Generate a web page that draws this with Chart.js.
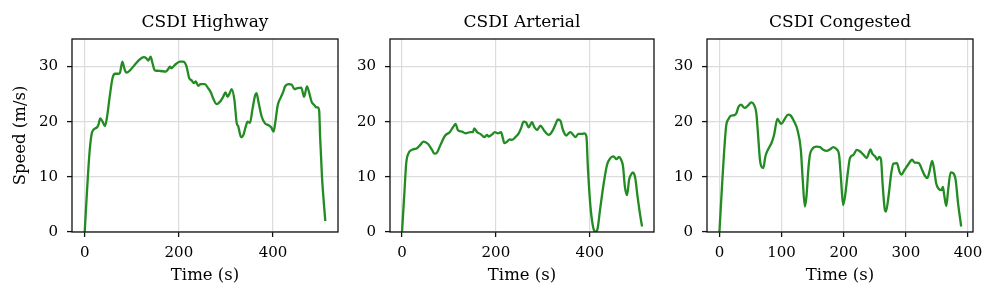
<!DOCTYPE html>
<html>
  <head>
    <title>CSDI speed profiles</title>
    <script src="https://cdn.jsdelivr.net/npm/chart.js"></script>
    <style>
      body { margin: 0; background: #fff; }
      #wrap { position: relative; width: 997px; height: 300px; }
      canvas { position: absolute; top: 0; }
    </style>
  </head>
  <body>
    <div id="wrap">
      <canvas id="highway" width="345" height="300" style="left:0px"></canvas>
      <canvas id="arterial" width="331" height="300" style="left:330px"></canvas>
      <canvas id="congested" width="347" height="300" style="left:650px"></canvas>
    </div>
    <script>
      'use strict'
      // values (time in s, speed in m/s)
      const highwayTime = [0, 5, 10.6, 16, 25, 29, 33, 38, 43, 47.5, 53, 59, 64.5, 71, 74.5, 80, 84, 88.7, 96, 106,
        117, 125.5, 131, 135, 140, 144, 149, 160, 172, 177, 181, 184, 191.5, 202, 209, 216, 222, 227, 232, 236,
        241, 246, 255, 262, 268, 273, 280, 287, 294, 299, 303.5, 308.5, 312, 318, 323, 326, 332, 337, 342, 346,
        351, 356, 362, 365, 369, 376, 383, 390, 396, 401, 404, 410, 417, 422, 425.5, 433, 440, 445, 452, 460,
        466, 472, 477, 482, 488, 492, 495, 498, 500, 504, 508, 511];
      const highwaySpeed = [0, 7.6, 14.8, 18.2, 18.9, 19.4, 20.6, 20, 19.2, 20.9, 24.5, 27.9, 28.7, 28.7, 28.8, 30.9, 29.7, 28.9, 29.3, 30.3,
        31.3, 31.7, 31.5, 31.1, 31.8, 30.6, 29.3, 29.2, 29.1, 29.5, 30, 29.7, 30.3, 30.9, 30.9, 30.1, 27.9, 27.5, 27, 27.3,
        26.5, 26.8, 26.8, 26.1, 25.3, 24.2, 23.2, 23.6, 24.5, 25.3, 24.5, 25.3, 25.9, 23.9, 19.7, 19.2, 17.2, 17.6, 19.1, 20,
        19.8, 22.1, 24.8, 25.2, 23.6, 20.9, 19.7, 19.4, 19, 18.2, 19.4, 23, 24.5, 25.5, 26.4, 26.8, 26.7, 25.9, 26.1, 26.2,
        24.5, 26.4, 25.2, 23.6, 23, 22.6, 22.6, 22, 17.3, 10, 5.2, 2];

      const arterialTime = [0, 5, 9, 14, 21, 32, 39, 46, 55, 64, 69, 74.6, 82, 92, 101.6, 108.7, 114, 119, 128, 135,
        145.6, 151, 154, 160, 167, 175.5, 181, 185, 192, 197.5, 204.6, 211, 215, 218, 224, 229.5, 234, 241.6, 248.7, 253.6,
        259, 264, 270, 277, 282, 288, 295, 302, 312.6, 319.7, 327, 332, 337.5, 343, 350, 355, 359, 365, 369.5, 376,
        384, 388.6, 393, 396, 401, 407, 412, 417, 422, 429.8, 437, 444, 451, 457, 462, 467, 471, 475, 479.6, 484,
        488, 492, 497, 502, 508, 511.6];
      const arterialSpeed = [0, 7, 12.5, 14.3, 14.9, 15.2, 15.8, 16.4, 16, 14.9, 14.2, 14.4, 15.8, 17.5, 18.1, 19, 19.6, 18.5, 18.2, 17.9,
        18.1, 18.1, 18.8, 18.1, 17.8, 17.2, 17.6, 17.3, 17.7, 18.1, 17.9, 18.1, 17, 16.1, 16.4, 16.8, 16.7, 17.2, 17.9, 18.8,
        20, 19.9, 19, 19.9, 19, 18.5, 19.3, 18.5, 17.6, 18.2, 19.5, 20.4, 20.2, 18.5, 17.5, 17.9, 18.1, 17.6, 17.2, 17.8,
        17.8, 17.9, 17.3, 11.9, 5.2, 1, 0, 0.7, 4, 8.8, 12.2, 13.4, 13.7, 13.2, 13.6, 13.1, 11.9, 8.2, 6.7, 9.5,
        10.4, 10.8, 9.8, 6.4, 2.8, 1];

      const congestedTime = [0, 5.4, 10.8, 14.6, 18.9, 24.3, 27.5, 30.7, 35, 40.4, 45.8, 51.2, 55.5, 59.3, 62, 65.2, 67.4, 70.6, 73.9, 78,
        83.6, 87.9, 93.3, 97, 99.7, 105, 110.5, 114.8, 120, 125.6, 131, 134, 137.5, 140, 143, 145.6, 149, 156, 161.7, 167,
        172.5, 178, 183, 188.7, 192.5, 195.7, 199, 202, 206.5, 210, 215.6, 221, 226.4, 231.8, 237, 240, 243, 246, 250.7, 254,
        257, 260, 262.5, 265.8, 268, 272, 276.5, 280, 285.7, 289.5, 292.7, 298, 303.5, 310, 314, 320.8, 326, 330.5, 334.8, 338,
        342.3, 345.5, 348.8, 353, 357.4, 359.6, 361.7, 365, 368, 372, 375.7, 380, 384, 389];
      const congestedSpeed = [0, 10.7, 19.2, 20.5, 21.1, 21.2, 21.6, 22.7, 23.1, 22.5, 22.9, 23.5, 23.1, 21.6, 17.9, 13.1, 11.9, 11.6, 13.7, 14.9,
        16.1, 17.6, 20.5, 19.9, 19.6, 20.5, 21.3, 21.1, 20.1, 18.5, 14.9, 9.5, 4.6, 6.4, 11.3, 14, 15, 15.5, 15.4, 14.9,
        14.7, 15, 15.4, 15, 14, 9.5, 4.9, 6.4, 10.7, 13.4, 14, 14.9, 14.6, 14, 13.4, 14.2, 15, 14.2, 13.7, 13.1,
        13.6, 13.1, 8.8, 4.3, 3.7, 6.4, 10.7, 12.4, 12.5, 11, 10.4, 11.3, 12.2, 13.1, 12.6, 12.5, 11.3, 10.2, 9.8, 11,
        12.9, 11.3, 8.8, 7.8, 7.6, 8.2, 6.7, 4.7, 7.6, 10.8, 10.7, 9.5, 5.2, 1];

      const titles = ['CSDI Highway', 'CSDI Arterial', 'CSDI Congested'];
      const speedTicks = [0, 10, 20, 30];
      const highwayTicks = [0, 200, 400];
      const arterialTicks = [0, 200, 400];
      const congestedTicks = [0, 100, 200, 300, 400];

      const FONT = 'DejaVu Serif';
      const INK = '#000';
      const GREEN = '#228B22';
      const GRID = '#dcdcdc';

      // matplotlib style box round the axes
      const framePlugin = {
        id: 'frame',
        afterDatasetsDraw(chart) {
          const a = chart.chartArea;
          const ctx = chart.ctx;
          ctx.save();
          ctx.strokeStyle = '#111';
          ctx.lineWidth = 1.3;
          ctx.strokeRect(a.left, a.top, a.right - a.left, a.bottom - a.top);
          ctx.restore();
        }
      };

      function makePanel(id, title, times, speeds, xTicks, xMin, xMax, yWidth, padRight, yTitle) {
        const points = times.map((t, i) => ({ x: t, y: speeds[i] }));

        new Chart(document.getElementById(id), {
          type: 'line',
          data: {
            datasets: [{
              data: points,
              borderColor: GREEN,
              borderWidth: 2.3,
              pointRadius: 0,
              cubicInterpolationMode: 'monotone',
              fill: false,
            }]
          },
          options: {
            responsive: false,
            animation: false,
            layout: { padding: { left: 0, right: padRight, top: 0, bottom: 0 } },
            plugins: {
              legend: { display: false },
              tooltip: { enabled: false },
              title: {
                display: true,
                text: title,
                fullSize: false,
                color: INK,
                font: { family: FONT, size: 17, weight: 'normal' },
                padding: { top: 12, bottom: 6.6 },
              },
            },
            scales: {
              x: {
                type: 'linear',
                min: xMin,
                max: xMax,
                afterBuildTicks: scale => { scale.ticks = xTicks.map(v => ({ value: v })); },
                afterFit: scale => { scale.height = 68; },
                grid: { color: GRID, lineWidth: 1.2, tickColor: '#111', tickLength: 5, tickWidth: 1.3 },
                border: { display: false },
                ticks: { color: INK, padding: 7, maxRotation: 0, font: { family: FONT, size: 15 } },
                title: {
                  display: true,
                  text: 'Time (s)',
                  color: INK,
                  font: { family: FONT, size: 16.5 },
                  padding: { top: 0, bottom: 14 },
                },
              },
              y: {
                min: 0,
                max: 35,
                afterBuildTicks: scale => { scale.ticks = speedTicks.map(v => ({ value: v })); },
                afterFit: scale => { scale.width = yWidth; },
                grid: { color: GRID, lineWidth: 1.2, tickColor: '#111', tickLength: 5, tickWidth: 1.3 },
                border: { display: false },
                ticks: { color: INK, padding: 9, font: { family: FONT, size: 15 } },
                title: {
                  display: yTitle,
                  text: 'Speed (m/s)',
                  color: INK,
                  font: { family: FONT, size: 16.5 },
                  padding: { top: 11, bottom: 0 },
                },
              },
            },
          },
          plugins: [framePlugin],
        });
      }

      makePanel('highway', titles[0], highwayTime, highwaySpeed, highwayTicks, -27, 538, 72, 7, true);
      makePanel('arterial', titles[1], arterialTime, arterialSpeed, arterialTicks, -25.6, 537, 60, 7, false);
      makePanel('congested', titles[2], congestedTime, congestedSpeed, congestedTicks, -20, 408, 57, 24, false);
    </script>
  </body>
</html>
